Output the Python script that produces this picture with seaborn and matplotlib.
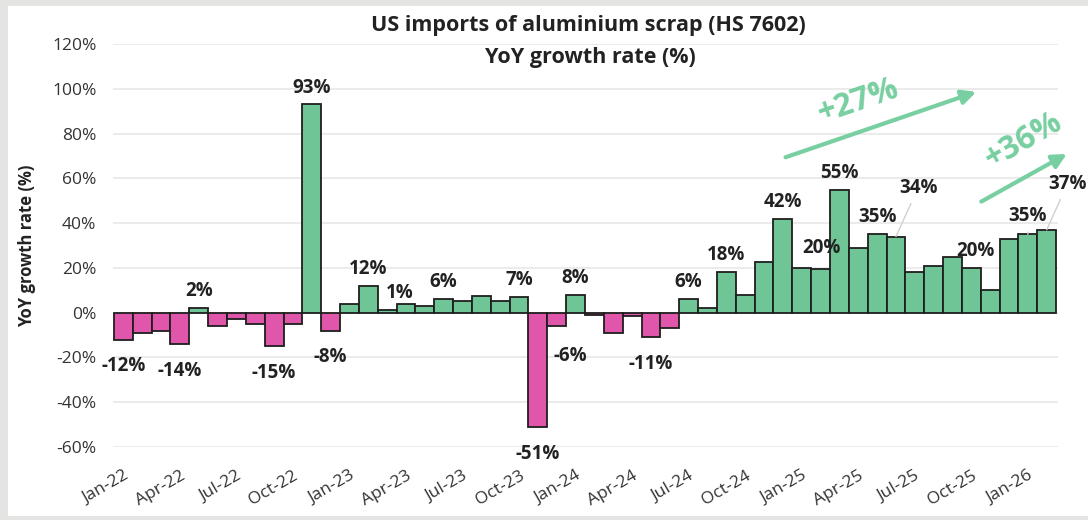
import numpy as np
import pandas as pd
import matplotlib
matplotlib.use("Agg")
import matplotlib.pyplot as plt
from matplotlib.patches import Rectangle
import seaborn as sns

# Monthly YoY growth of US aluminium scrap imports (HS 7602), Jan-22 .. Feb-26
months = pd.date_range("2022-01-01", periods=50, freq="MS").strftime("%b-%y").tolist()
yoy_growth = [
    -12, -9, -8, -14, 2, -6, -3, -5, -15, -5, 93, -8,        # 2022
    4, 12, 1, 4, 3, 6, 5, 7.5, 5, 7, -51, -6,               # 2023
    8, -1, -9, -1.5, -11, -7, 6, 2, 18, 8, 22.5, 42,        # 2024
    20, 19.5, 55, 29, 35, 34, 18, 21, 25, 20, 10, 33,       # 2025
    35, 37,                                                 # 2026
]
tick_labels = ["Jan-22", "Apr-22", "Jul-22", "Oct-22", "Jan-23", "Apr-23", "Jul-23",
               "Oct-23", "Jan-24", "Apr-24", "Jul-24", "Oct-24", "Jan-25", "Apr-25",
               "Jul-25", "Oct-25", "Jan-26"]
labelled = [0, 3, 4, 8, 10, 11, 13, 14, 17, 21, 22, 23, 24, 28, 30, 32, 35, 36,
            38, 40, 41, 45, 48, 49]
trend_labels = ["+27%", "+36%"]

GREEN = "#6fc596"
PINK = "#e056aa"
ARROW_GREEN = "#78cfa1"

sns.set_theme(style="white")
plt.rcParams["font.family"] = ["Open Sans", "DejaVu Sans"]

df = pd.DataFrame({"month": months, "growth": yoy_growth})
df["sign"] = np.where(df["growth"] >= 0, "up", "down")

fig = plt.figure(figsize=(10.88, 5.2), dpi=100, facecolor="#e4e4e2")
fig.patches.append(Rectangle((8 / 1088, 4 / 520), 1 - 8 / 1088, 1 - 10 / 520,
                             transform=fig.transFigure, facecolor="white",
                             edgecolor="none", zorder=-5))
ax = fig.add_axes([113 / 1088, 73 / 520, 945 / 1088, 403 / 520])
ax.set_facecolor("none")

sns.barplot(data=df, x="month", y="growth", hue="sign",
            palette={"up": GREEN, "down": PINK}, dodge=False, width=1.0,
            saturation=1, edgecolor="#1e1e1e", linewidth=1.3, legend=False,
            ax=ax, zorder=3)

ax.set_ylim(-60, 120)
ax.set_xlim(-0.55, 49.6)
ax.set_yticks(np.arange(-60, 121, 20))
ax.set_yticklabels([f"{t}%" for t in range(-60, 121, 20)])
ax.yaxis.grid(True, color="#e8e8e8", linewidth=1.2, zorder=0)
ax.set_axisbelow(True)
for s in ax.spines.values():
    s.set_visible(False)

ax.set_xticks(range(0, 50, 3))
ax.set_xticklabels(tick_labels, rotation=30, ha="right", va="top",
                   rotation_mode="anchor")
ax.tick_params(axis="x", length=0, pad=15, labelsize=12.5, labelcolor="#333333")
ax.tick_params(axis="y", length=0, pad=12, labelsize=12.5, labelcolor="#333333")
ax.set_xlabel("")
ax.set_ylabel("YoY growth rate (%)", fontsize=12, fontweight="bold", color="#222222")
ax.yaxis.set_label_coords(-0.081, 0.5)

# value labels: nudges in points for the crowded spots
nudge = {14: (9, 0), 23: (10, -2), 36: (14, 2), 45: (3, 0)}
leader = {41: (16, 24), 49: (15, 22), 48: (0, 2)}
for i in labelled:
    v = yoy_growth[i]
    txt = f"{v:.0f}%"
    if i in leader:
        dx, dy = leader[i]
        ax.annotate(txt, xy=(i, v), xytext=(dx, dy + 4), textcoords="offset points",
                    ha="center", va="bottom", fontsize=13.5, fontweight="bold",
                    color="#222222", zorder=5, annotation_clip=False,
                    arrowprops=dict(arrowstyle="-", color="#d0d0d0", lw=1,
                                    shrinkA=2, shrinkB=0))
        continue
    dx, dy = nudge.get(i, (0, 0))
    if v >= 0:
        ax.annotate(txt, xy=(i, v), xytext=(dx, 5 + dy), textcoords="offset points",
                    ha="center", va="bottom", fontsize=13.5, fontweight="bold",
                    color="#222222", zorder=5)
    else:
        ax.annotate(txt, xy=(i, v), xytext=(dx, -12 + dy), textcoords="offset points",
                    ha="center", va="top", fontsize=13.5, fontweight="bold",
                    color="#222222", zorder=5)

# trend arrows
ax.annotate("", xy=(45.4, 99), xytext=(35.0, 69),
            arrowprops=dict(arrowstyle="-|>,head_length=0.7,head_width=0.35",
                            color=ARROW_GREEN, lw=3.0), zorder=6)
ax.annotate("", xy=(50.2, 71.5), xytext=(45.4, 49),
            arrowprops=dict(arrowstyle="-|>,head_length=0.7,head_width=0.35",
                            color=ARROW_GREEN, lw=3.0), zorder=6, annotation_clip=False)
ax.text(39.0, 94.5, trend_labels[0], rotation=19, ha="center", va="center",
        fontsize=23, fontweight="bold", color=ARROW_GREEN, zorder=6)
ax.text(47.8, 77, trend_labels[1], rotation=30, ha="center", va="center",
        fontsize=23, fontweight="bold", color=ARROW_GREEN, zorder=6, clip_on=False)

fig.text(588 / 1088, 1 - 25 / 520, "US imports of aluminium scrap (HS 7602)",
         ha="center", va="center", fontsize=15.5, fontweight="bold", color="#222222")
fig.text(590 / 1088, 1 - 57 / 520, "YoY growth rate (%)",
         ha="center", va="center", fontsize=15.5, fontweight="bold", color="#222222")

fig.savefig("out.png", dpi=100, facecolor=fig.get_facecolor())
